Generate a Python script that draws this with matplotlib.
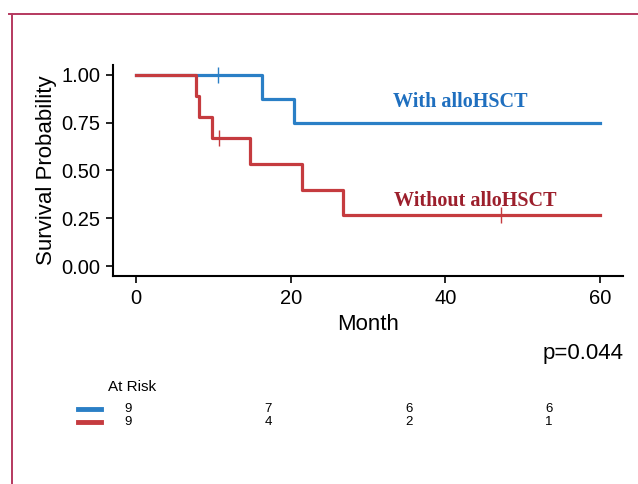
import matplotlib.pyplot as plt
from matplotlib.lines import Line2D

plt.rcParams['font.family'] = ['Liberation Sans', 'DejaVu Sans']

# Kaplan-Meier step data (time in months, survival)
with_t = [0, 16.3, 20.4, 60]
with_s = [1.0, 0.875, 0.75, 0.75]
with_cens_t = [10.6]
with_cens_s = [1.0]

without_t = [0, 7.8, 8.1, 9.8, 14.7, 21.5, 26.7, 60]
without_s = [1.0, 0.889, 0.778, 0.667, 0.533, 0.4, 0.267, 0.267]
without_cens_t = [10.7, 47.2]
without_cens_s = [0.667, 0.267]

risk_times = [0, 20, 40, 60]
risk_with = [9, 7, 6, 6]
risk_without = [9, 4, 2, 1]

blue = '#2a7fc6'
red = '#c53b3f'
blue_txt = '#1f6fbf'
red_txt = '#9c1f2c'

W, H = 638, 484
fig = plt.figure(figsize=(W / 100, H / 100), dpi=100)

def fx(px):
    return px / W

def fy(py):
    return 1 - py / H

# outer frame
fig.add_artist(Line2D([fx(9), fx(638)], [fy(14), fy(14)], color='#b5385f', lw=1.4))
fig.add_artist(Line2D([fx(11.5), fx(11.5)], [fy(14), fy(484)], color='#b5385f', lw=1.4))

ax = fig.add_axes([fx(113), fy(276), fx(623) - fx(113), fy(65) - fy(276)])
ax.step(with_t, with_s, where='post', color=blue, lw=2.3)
ax.step(without_t, without_s, where='post', color=red, lw=2.3)
ax.plot(with_cens_t, with_cens_s, '|', color=blue, ms=11, mew=1.0)
ax.plot(without_cens_t, without_cens_s, '|', color=red, ms=11, mew=1.0)

ax.set_xlim(-3, 63)
ax.set_ylim(-0.05, 1.05)
ax.set_xticks([0, 20, 40, 60])
ax.set_yticks([0, 0.25, 0.5, 0.75, 1.0])
ax.set_yticklabels(['0.00', '0.25', '0.50', '0.75', '1.00'])
for s in ['top', 'right']:
    ax.spines[s].set_visible(False)
for s in ['left', 'bottom']:
    ax.spines[s].set_linewidth(1.5)
ax.tick_params(labelsize=14.5, width=1.2, length=5, colors='black', pad=4)
ax.set_xlabel('Month', fontsize=16, labelpad=5)
ax.set_ylabel('Survival Probability', fontsize=16, labelpad=3)

ax.text(41.9, 0.855, 'With alloHSCT', color=blue_txt, fontsize=14.5, fontweight='bold',
        family='Liberation Serif', ha='center', va='center')
ax.text(43.9, 0.34, 'Without alloHSCT', color=red_txt, fontsize=14.5, fontweight='bold',
        family='Liberation Serif', ha='center', va='center')

fig.text(fx(624), fy(353), 'p=0.044', fontsize=16, ha='right', va='center')

# number at risk table
fig.text(fx(108), fy(387), 'At Risk', fontsize=11, ha='left', va='center')
tab = fig.add_axes([fx(107), fy(430), fx(570) - fx(107), fy(402) - fy(430)])
tab.set_xlim(-3, 63)
tab.set_ylim(0, 1)
tab.axis('off')
for t, a, b in zip(risk_times, risk_with, risk_without):
    tab.text(t, 0.74, str(a), fontsize=9.5, ha='center', va='center')
    tab.text(t, 0.30, str(b), fontsize=9.5, ha='center', va='center')

fig.add_artist(Line2D([fx(78), fx(101)], [fy(409), fy(409)], color=blue, lw=3.5))
fig.add_artist(Line2D([fx(78), fx(101)], [fy(422), fy(422)], color=red, lw=3.5))

fig.savefig('out.png', dpi=100)
